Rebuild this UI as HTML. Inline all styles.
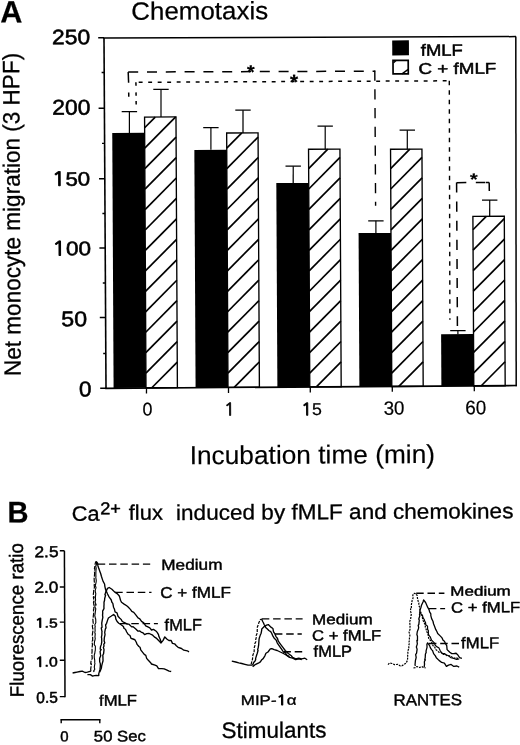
<!DOCTYPE html>
<html><head><meta charset="utf-8"><title>Chemotaxis and Ca2+ flux</title>
<style>html,body{margin:0;padding:0;background:#fff}svg{display:block}</style></head>
<body><svg width="520" height="745" viewBox="0 0 520 745">
<rect width="520" height="745" fill="#fff"/>
<g transform="rotate(-0.3 260.0 372.0)">
<g stroke="#000" stroke-linecap="butt" fill="none">
<line x1="105.75" y1="37.09" x2="105.92" y2="387.49" stroke-width="1.6"/>
<line x1="105.05" y1="37.08" x2="517.75" y2="37.95" stroke-width="1.5"/>
<line x1="517.55" y1="37.94" x2="516.12" y2="387.54" stroke-width="1.5"/>
<line x1="105.12" y1="387.49" x2="516.83" y2="386.84" stroke-width="1.7"/>
<line x1="99.95" y1="36.96" x2="105.75" y2="36.99" stroke-width="1.5"/>
<line x1="99.98" y1="107.46" x2="105.78" y2="107.49" stroke-width="1.5"/>
<line x1="100.02" y1="177.96" x2="105.82" y2="177.99" stroke-width="1.5"/>
<line x1="100.05" y1="247.16" x2="105.85" y2="247.19" stroke-width="1.5"/>
<line x1="100.08" y1="316.66" x2="105.88" y2="316.69" stroke-width="1.5"/>
<line x1="100.12" y1="387.36" x2="105.92" y2="387.39" stroke-width="1.5"/>
<line x1="103.17" y1="71.67" x2="105.77" y2="71.69" stroke-width="1.3"/>
<line x1="103.20" y1="142.58" x2="105.80" y2="142.59" stroke-width="1.3"/>
<line x1="103.23" y1="212.68" x2="105.83" y2="212.69" stroke-width="1.3"/>
<line x1="103.27" y1="282.18" x2="105.87" y2="282.19" stroke-width="1.3"/>
<line x1="103.30" y1="352.68" x2="105.90" y2="352.69" stroke-width="1.3"/>
<rect x="113.51" y="132.23" width="32.40" height="254.96" fill="#000" stroke="none"/>
<line x1="151.73" y1="387.18" x2="177.31" y2="361.60" stroke-width="1.7"/>
<line x1="145.91" y1="372.55" x2="177.31" y2="341.15" stroke-width="1.7"/>
<line x1="145.91" y1="352.10" x2="177.31" y2="320.70" stroke-width="1.7"/>
<line x1="145.91" y1="331.65" x2="177.31" y2="300.25" stroke-width="1.7"/>
<line x1="145.91" y1="311.20" x2="177.31" y2="279.80" stroke-width="1.7"/>
<line x1="145.91" y1="290.75" x2="177.31" y2="259.35" stroke-width="1.7"/>
<line x1="145.91" y1="270.30" x2="177.31" y2="238.90" stroke-width="1.7"/>
<line x1="145.91" y1="249.85" x2="177.31" y2="218.45" stroke-width="1.7"/>
<line x1="145.91" y1="229.40" x2="177.31" y2="198.00" stroke-width="1.7"/>
<line x1="145.91" y1="208.95" x2="177.31" y2="177.55" stroke-width="1.7"/>
<line x1="145.91" y1="188.50" x2="177.31" y2="157.10" stroke-width="1.7"/>
<line x1="145.91" y1="168.05" x2="177.31" y2="136.65" stroke-width="1.7"/>
<line x1="145.91" y1="147.60" x2="177.02" y2="116.49" stroke-width="1.7"/>
<line x1="145.91" y1="127.15" x2="156.57" y2="116.49" stroke-width="1.7"/>
<rect x="145.91" y="116.49" width="31.40" height="270.69" fill="none" stroke="#000" stroke-width="1.35"/>
<line x1="146.42" y1="387.42" x2="146.39" y2="392.92" stroke-width="1.3"/>
<rect x="195.51" y="149.55" width="32.40" height="237.63" fill="#000" stroke="none"/>
<line x1="234.12" y1="387.18" x2="259.31" y2="361.99" stroke-width="1.7"/>
<line x1="227.91" y1="372.94" x2="259.31" y2="341.54" stroke-width="1.7"/>
<line x1="227.91" y1="352.49" x2="259.31" y2="321.09" stroke-width="1.7"/>
<line x1="227.91" y1="332.04" x2="259.31" y2="300.64" stroke-width="1.7"/>
<line x1="227.91" y1="311.59" x2="259.31" y2="280.19" stroke-width="1.7"/>
<line x1="227.91" y1="291.14" x2="259.31" y2="259.74" stroke-width="1.7"/>
<line x1="227.91" y1="270.69" x2="259.31" y2="239.29" stroke-width="1.7"/>
<line x1="227.91" y1="250.24" x2="259.31" y2="218.84" stroke-width="1.7"/>
<line x1="227.91" y1="229.79" x2="259.31" y2="198.39" stroke-width="1.7"/>
<line x1="227.91" y1="209.34" x2="259.31" y2="177.94" stroke-width="1.7"/>
<line x1="227.91" y1="188.89" x2="259.31" y2="157.49" stroke-width="1.7"/>
<line x1="227.91" y1="168.44" x2="259.31" y2="137.04" stroke-width="1.7"/>
<line x1="227.91" y1="147.99" x2="243.08" y2="132.82" stroke-width="1.7"/>
<rect x="227.91" y="132.82" width="31.40" height="254.36" fill="none" stroke="#000" stroke-width="1.35"/>
<line x1="228.42" y1="387.30" x2="228.39" y2="392.80" stroke-width="1.3"/>
<rect x="277.31" y="183.18" width="32.40" height="204.00" fill="#000" stroke="none"/>
<line x1="316.30" y1="387.18" x2="341.11" y2="362.38" stroke-width="1.7"/>
<line x1="309.71" y1="373.33" x2="341.11" y2="341.93" stroke-width="1.7"/>
<line x1="309.71" y1="352.88" x2="341.11" y2="321.48" stroke-width="1.7"/>
<line x1="309.71" y1="332.43" x2="341.11" y2="301.03" stroke-width="1.7"/>
<line x1="309.71" y1="311.98" x2="341.11" y2="280.58" stroke-width="1.7"/>
<line x1="309.71" y1="291.53" x2="341.11" y2="260.13" stroke-width="1.7"/>
<line x1="309.71" y1="271.08" x2="341.11" y2="239.68" stroke-width="1.7"/>
<line x1="309.71" y1="250.63" x2="341.11" y2="219.23" stroke-width="1.7"/>
<line x1="309.71" y1="230.18" x2="341.11" y2="198.78" stroke-width="1.7"/>
<line x1="309.71" y1="209.73" x2="341.11" y2="178.33" stroke-width="1.7"/>
<line x1="309.71" y1="189.28" x2="341.11" y2="157.88" stroke-width="1.7"/>
<line x1="309.71" y1="168.83" x2="328.99" y2="149.55" stroke-width="1.7"/>
<rect x="309.71" y="149.55" width="31.40" height="237.63" fill="none" stroke="#000" stroke-width="1.35"/>
<line x1="310.22" y1="387.17" x2="310.19" y2="392.67" stroke-width="1.3"/>
<rect x="359.31" y="233.61" width="32.40" height="153.57" fill="#000" stroke="none"/>
<line x1="398.73" y1="387.18" x2="423.11" y2="362.81" stroke-width="1.7"/>
<line x1="391.71" y1="373.76" x2="423.11" y2="342.36" stroke-width="1.7"/>
<line x1="391.71" y1="353.31" x2="423.11" y2="321.91" stroke-width="1.7"/>
<line x1="391.71" y1="332.86" x2="423.11" y2="301.46" stroke-width="1.7"/>
<line x1="391.71" y1="312.41" x2="423.11" y2="281.01" stroke-width="1.7"/>
<line x1="391.71" y1="291.96" x2="423.11" y2="260.56" stroke-width="1.7"/>
<line x1="391.71" y1="271.51" x2="423.11" y2="240.11" stroke-width="1.7"/>
<line x1="391.71" y1="251.06" x2="423.11" y2="219.66" stroke-width="1.7"/>
<line x1="391.71" y1="230.61" x2="423.11" y2="199.21" stroke-width="1.7"/>
<line x1="391.71" y1="210.16" x2="423.11" y2="178.76" stroke-width="1.7"/>
<line x1="391.71" y1="189.71" x2="423.11" y2="158.31" stroke-width="1.7"/>
<line x1="391.71" y1="169.26" x2="410.99" y2="149.98" stroke-width="1.7"/>
<rect x="391.71" y="149.98" width="31.40" height="237.20" fill="none" stroke="#000" stroke-width="1.35"/>
<line x1="392.22" y1="387.04" x2="392.19" y2="392.54" stroke-width="1.3"/>
<rect x="441.31" y="335.24" width="32.40" height="51.95" fill="#000" stroke="none"/>
<line x1="480.98" y1="387.18" x2="505.11" y2="363.06" stroke-width="1.7"/>
<line x1="473.71" y1="374.01" x2="505.11" y2="342.61" stroke-width="1.7"/>
<line x1="473.71" y1="353.56" x2="505.11" y2="322.16" stroke-width="1.7"/>
<line x1="473.71" y1="333.11" x2="505.11" y2="301.71" stroke-width="1.7"/>
<line x1="473.71" y1="312.66" x2="505.11" y2="281.26" stroke-width="1.7"/>
<line x1="473.71" y1="292.21" x2="505.11" y2="260.81" stroke-width="1.7"/>
<line x1="473.71" y1="271.76" x2="505.11" y2="240.36" stroke-width="1.7"/>
<line x1="473.71" y1="251.31" x2="505.11" y2="219.91" stroke-width="1.7"/>
<line x1="473.71" y1="230.86" x2="487.06" y2="217.51" stroke-width="1.7"/>
<rect x="473.71" y="217.51" width="31.40" height="169.68" fill="none" stroke="#000" stroke-width="1.35"/>
<line x1="474.22" y1="386.91" x2="474.20" y2="392.41" stroke-width="1.3"/>
<line x1="130.76" y1="111.02" x2="130.65" y2="132.22" stroke-width="1.2"/>
<line x1="123.06" y1="110.98" x2="138.46" y2="111.06" stroke-width="1.25"/>
<line x1="162.48" y1="88.89" x2="162.34" y2="116.49" stroke-width="1.2"/>
<line x1="154.78" y1="88.85" x2="170.18" y2="88.93" stroke-width="1.25"/>
<line x1="212.18" y1="127.45" x2="212.06" y2="149.55" stroke-width="1.2"/>
<line x1="204.48" y1="127.41" x2="219.88" y2="127.49" stroke-width="1.25"/>
<line x1="244.37" y1="110.11" x2="244.25" y2="132.81" stroke-width="1.2"/>
<line x1="236.67" y1="110.07" x2="252.07" y2="110.15" stroke-width="1.25"/>
<line x1="294.28" y1="166.38" x2="294.19" y2="183.18" stroke-width="1.2"/>
<line x1="286.58" y1="166.34" x2="301.98" y2="166.42" stroke-width="1.25"/>
<line x1="326.49" y1="126.54" x2="326.37" y2="149.54" stroke-width="1.2"/>
<line x1="318.79" y1="126.50" x2="334.19" y2="126.59" stroke-width="1.25"/>
<line x1="376.69" y1="221.41" x2="376.63" y2="233.61" stroke-width="1.2"/>
<line x1="368.99" y1="221.37" x2="384.39" y2="221.45" stroke-width="1.25"/>
<line x1="408.56" y1="130.97" x2="408.46" y2="149.97" stroke-width="1.2"/>
<line x1="400.86" y1="130.93" x2="416.26" y2="131.01" stroke-width="1.25"/>
<line x1="458.11" y1="331.54" x2="458.10" y2="335.24" stroke-width="1.2"/>
<line x1="450.41" y1="331.50" x2="465.81" y2="331.58" stroke-width="1.25"/>
<line x1="490.60" y1="201.31" x2="490.51" y2="217.50" stroke-width="1.2"/>
<line x1="482.90" y1="201.26" x2="498.30" y2="201.35" stroke-width="1.25"/>
<line x1="129.77" y1="71.31" x2="376.77" y2="71.81" stroke-width="1.5" stroke-dasharray="10 8.8"/>
<line x1="129.77" y1="71.31" x2="130.12" y2="82.12" stroke-width="1.5"/>
<line x1="130.17" y1="91.72" x2="130.24" y2="96.02" stroke-width="1.5"/>
<line x1="376.38" y1="71.01" x2="376.47" y2="206.41" stroke-width="1.4" stroke-dasharray="10.4 8.35"/>
<line x1="137.12" y1="81.65" x2="451.12" y2="81.80" stroke-width="1.5" stroke-dasharray="3.9 5.6" stroke-dashoffset="6.4"/>
<line x1="137.42" y1="81.65" x2="137.50" y2="85.05" stroke-width="1.5"/>
<line x1="137.47" y1="91.75" x2="137.55" y2="95.16" stroke-width="1.5"/>
<line x1="137.52" y1="100.35" x2="137.60" y2="103.76" stroke-width="1.5"/>
<line x1="450.82" y1="81.80" x2="450.17" y2="320.70" stroke-width="1.4" stroke-dasharray="4.4 5.1"/>
<line x1="457.69" y1="183.73" x2="467.29" y2="183.68" stroke-width="1.5"/>
<line x1="476.79" y1="183.63" x2="486.39" y2="183.58" stroke-width="1.5"/>
<line x1="486.99" y1="183.59" x2="490.19" y2="183.60" stroke-width="1.5"/>
<line x1="490.19" y1="183.60" x2="490.24" y2="192.20" stroke-width="1.5"/>
<line x1="457.59" y1="183.53" x2="457.64" y2="327.03" stroke-width="1.5" stroke-dasharray="10.1 9.0"/>
<rect x="393.93" y="41.10" width="16.7" height="15.0" fill="#000" stroke="none"/>
<rect x="394.63" y="61.10" width="15.2" height="13.5" fill="none" stroke="#000" stroke-width="1.7"/>
<line x1="403.56" y1="74.65" x2="409.78" y2="70.18" stroke-width="1.4"/>
<line x1="395.22" y1="63.40" x2="397.63" y2="61.22" stroke-width="1.4"/>
<line x1="63.47" y1="549.77" x2="63.30" y2="696.17" stroke-width="1.5"/>
<line x1="58.87" y1="549.75" x2="63.47" y2="549.77" stroke-width="1.4"/>
<line x1="58.68" y1="585.95" x2="63.43" y2="585.97" stroke-width="1.4"/>
<line x1="58.49" y1="621.05" x2="63.39" y2="621.07" stroke-width="1.4"/>
<line x1="58.29" y1="659.15" x2="63.34" y2="659.17" stroke-width="1.4"/>
<line x1="58.10" y1="695.55" x2="63.30" y2="695.57" stroke-width="1.4"/>
<line x1="58.78" y1="718.75" x2="98.58" y2="718.96" stroke-width="1.4"/>
<line x1="59.38" y1="718.15" x2="59.36" y2="722.25" stroke-width="1.4"/>
<line x1="97.98" y1="718.36" x2="97.96" y2="722.46" stroke-width="1.4"/>
<polyline fill="none" stroke-width="1.35" stroke-linejoin="round" points="71.03,672.01 73.43,671.53 75.43,671.14 78.43,670.55 80.64,670.26 83.43,671.58 85.83,671.19 89.34,670.31"/>
<polyline fill="none" stroke-width="1.2" stroke-linejoin="round" points="89.34,670.31 89.12,668.36 89.41,666.46 89.87,663.00 89.19,662.94 89.64,659.31 90.72,657.87 90.64,655.82 90.32,653.82 90.59,650.89 90.65,650.74 90.59,648.40 90.87,644.62 91.06,643.98 90.55,640.50 91.36,639.64 91.24,638.68 91.31,636.78 90.98,634.45 91.12,632.78 91.78,628.59 91.36,627.62 90.96,624.87 92.11,623.43 91.74,621.06 91.66,619.26 91.52,617.77 91.90,616.58 92.09,614.63 92.39,612.78 92.24,608.61 92.54,608.68 92.68,605.64 92.51,602.69 92.30,601.43 92.81,599.61 92.18,596.27 92.99,596.68 92.08,594.17 92.58,590.48 92.50,590.08 93.35,586.19 93.09,584.18 93.30,582.92 93.58,582.60 93.17,580.64 93.01,576.24 93.33,575.33 93.63,571.93 93.26,570.72 93.97,567.89 93.38,567.55 93.89,565.61 94.30,562.24 95.21,560.44" stroke-dasharray="5 1.2"/>
<polyline fill="none" stroke-width="1.35" stroke-linejoin="round" points="95.21,560.44 96.57,562.33 96.89,564.85 97.72,567.51 98.66,570.06 99.68,572.96 100.33,575.37 101.24,578.28 102.01,580.58 103.46,583.20 103.78,585.78 104.52,589.01 105.45,591.09 106.40,593.18 108.02,596.31 109.98,598.97 110.70,601.52 111.62,602.59 112.29,606.40 113.26,608.53 113.79,611.17 115.75,612.07 116.72,615.55 118.31,617.21 119.81,618.65 121.00,620.78 123.69,622.19 125.95,623.47 127.68,623.51 130.37,626.22 131.80,626.09 134.46,628.25 136.67,630.51 138.45,630.37 139.72,631.46 141.76,632.32 143.23,633.99 145.36,632.97 147.83,632.92 151.32,634.63 152.89,636.34 154.81,637.55 156.24,638.94 158.19,640.97 159.88,642.78"/>
<polyline fill="none" stroke-width="1.2" stroke-linejoin="round" points="249.57,664.25 250.44,660.99 250.68,660.80 251.10,658.16 251.41,654.87 252.59,652.35 252.74,650.47 252.65,648.14 253.63,645.12 253.45,643.56 254.42,641.67 254.30,639.67 255.15,636.52 254.86,635.47 255.96,632.66 255.85,630.48 256.04,626.93 256.98,624.55 257.49,622.79 259.00,619.70 260.21,618.90" stroke-dasharray="3 1.2"/>
<polyline fill="none" stroke-width="1.35" stroke-linejoin="round" points="260.21,618.90 261.54,621.74 262.09,622.81 262.82,624.54 264.36,627.43 266.30,629.36 267.45,630.54 269.34,631.65 270.43,633.56 271.14,635.37 272.81,638.27 274.68,639.99 275.78,642.89 277.12,644.98 278.86,647.50 280.29,649.57 281.93,652.12 284.03,652.79 285.02,655.23 288.01,656.75"/>
<polyline fill="none" stroke-width="1.1" stroke-linejoin="round" points="92.63,671.13 92.04,670.28 93.24,668.40 92.72,666.30 93.43,662.41 93.25,662.01 93.21,659.18 92.78,656.72 92.77,654.01 93.29,652.58 93.65,649.95 93.82,649.64 93.90,648.17 93.94,645.33 92.84,643.77 93.11,640.61 93.60,639.13 93.85,637.20 93.56,636.27 93.87,632.72 93.43,632.07 93.77,629.87 93.65,626.35 93.92,625.96 93.49,623.89 94.51,621.93 94.43,617.86 94.21,618.08 93.50,614.54 93.82,613.20 94.07,611.06 94.57,607.84 93.67,606.16 93.80,604.01 94.94,604.06 93.83,601.14 94.41,599.14 94.21,596.65 94.29,595.52 94.63,592.78 94.16,590.69 94.10,589.28 94.91,586.83 94.13,584.30 94.54,583.41 95.11,580.83 95.17,579.46 94.73,576.81 94.85,575.67 94.79,573.64 94.88,570.48 94.97,569.14 95.17,567.65 94.73,564.94 95.35,564.13 95.61,561.14"/>
<polyline fill="none" stroke-width="1.35" stroke-linejoin="round" points="85.82,673.79 88.72,673.78 90.99,675.18 92.81,674.73 94.70,674.65 97.21,674.75 97.18,672.97 98.14,669.56 98.47,668.32 98.77,665.51 98.82,663.00 98.13,660.81 98.13,657.42 99.26,654.92 99.02,653.86 98.62,650.63 99.77,648.66 98.77,648.19 99.02,646.01 99.86,643.80 100.35,640.95 100.28,637.35 100.01,636.37 100.48,634.22 100.55,631.00 100.70,630.97 99.94,627.21 100.71,626.35 100.43,622.49 100.55,621.45 101.00,618.97 101.56,616.51 101.28,614.33 101.48,612.20 101.36,610.22 102.74,607.82 102.67,604.97 102.82,604.33 102.80,601.48 103.39,599.45 103.51,597.70 104.43,594.34 103.75,593.81 104.65,591.09 106.37,587.60 108.07,586.71 110.76,588.42 113.35,591.14 115.94,592.85 117.77,594.65 118.52,596.36 119.33,599.54 120.30,601.57 122.89,603.39 125.48,605.10 126.91,606.30 129.16,608.72 130.56,610.75 132.50,611.64 134.53,614.15 136.76,617.34 138.51,618.17 140.23,620.76 142.49,622.29 144.41,625.22 146.57,626.31 148.47,627.26 150.15,629.43 152.14,628.80 154.84,630.65 155.96,632.05 157.13,634.06 157.54,636.00 158.80,638.67 159.88,642.18 161.70,639.89 163.41,636.40 165.70,638.71 167.51,640.03 169.80,639.93 171.02,642.91 173.18,643.35 174.89,645.37 176.66,646.87 180.05,648.09 182.34,649.80 185.84,650.42 187.54,651.52"/>
<polyline fill="none" stroke-width="1.35" stroke-linejoin="round" points="98.13,671.26 98.75,669.95 99.87,667.06 100.09,665.32 100.78,662.57 101.47,660.13 101.52,659.40 101.41,655.31 101.32,654.39 102.12,652.83 102.58,648.78 101.94,646.64 102.57,645.08 102.32,643.58 103.35,642.06 102.73,639.93 102.97,636.75 103.67,633.84 103.53,632.88 103.35,631.67 103.96,628.35 104.69,627.11 104.30,624.14 105.29,622.49 106.12,619.81 107.11,617.20 109.72,615.52 112.33,613.73 114.12,615.54 114.58,618.36 115.80,620.75 117.49,622.56 120.18,624.27 122.06,625.75 122.76,627.78 124.11,628.55 125.34,631.30 126.69,633.49 128.62,634.82 129.60,637.58 131.60,638.33 133.50,639.09 134.89,641.62 135.68,643.75 137.47,645.88 138.56,646.67 139.43,649.43 140.84,651.28 142.77,653.84 144.32,654.80 145.15,657.76 146.59,659.41 148.88,661.87 149.97,663.43 153.47,664.65 155.26,665.40 156.95,668.16 160.35,668.18 162.64,668.36 164.94,669.31 167.57,670.63 169.63,671.03"/>
<polyline fill="none" stroke-width="1.35" stroke-linejoin="round" points="230.29,661.05 234.18,661.87 237.28,662.69 240.27,663.40 243.37,664.22 246.47,665.03 249.57,665.05 251.07,665.06"/>
<polyline fill="none" stroke-width="1.35" stroke-linejoin="round" points="251.07,665.06 252.32,662.29 253.39,661.17 254.16,659.59 254.13,658.34 255.35,654.42 255.73,653.48 256.62,650.41 256.17,649.78 256.85,647.21 257.24,644.82 257.38,642.79 257.66,639.38 257.85,638.22 258.92,635.10 259.76,633.15 260.26,630.61 260.45,628.91 262.87,626.62 265.17,625.13 266.98,624.64 268.17,625.74 269.96,627.46 271.59,628.57 272.24,632.07 273.44,633.72 274.61,636.68 276.10,638.61 276.89,641.29 279.17,644.40 281.46,647.52 283.74,650.63 285.07,651.88 286.83,653.64 289.81,655.96 291.11,657.57 294.20,659.08 297.30,658.40 300.30,659.11 303.40,658.43 305.69,659.94"/>
<polyline fill="none" stroke-width="1.35" stroke-linejoin="round" points="251.06,666.56 254.17,664.27 257.28,662.79 258.84,661.95 260.29,659.71 261.66,658.66 263.41,655.82 264.47,653.33 266.53,652.04 268.85,648.95 270.35,648.66 272.75,649.77 275.74,650.59 278.83,652.10 281.93,653.62 285.02,655.23 288.01,657.55 291.10,658.37 294.19,659.88 297.30,659.10 300.29,659.91"/>
<polyline fill="none" stroke-width="1.2" stroke-linejoin="round" points="386.47,665.27 387.95,663.72 390.47,664.19 392.93,665.29 394.67,665.21 396.16,665.06 398.46,666.53 400.35,666.52 402.47,665.25 404.58,663.86 405.89,661.17 406.21,658.14 406.15,656.14 406.51,655.01 406.29,652.06 407.24,649.38 407.46,649.51 407.27,646.37 408.00,644.05 407.63,642.55 407.88,641.56 408.11,637.78 408.49,636.24 408.30,634.85 407.67,632.94 408.68,630.20 408.65,628.10 408.77,626.18 408.51,624.24 408.45,622.14 409.38,619.98 409.41,619.30 409.99,615.14 409.99,614.39 409.17,611.68 409.55,608.93 410.08,609.13 410.18,605.99 410.23,604.93 411.02,601.00 411.51,600.20 411.89,598.48 411.63,595.90 412.94,594.10 415.04,594.51 415.99,596.51 416.31,599.32 417.13,602.68 417.63,603.63 417.58,606.03 418.60,608.69 418.95,611.44 419.43,612.95 420.92,616.85 421.03,618.30 421.79,621.31 422.89,623.56 423.80,625.89 424.09,628.42 424.85,630.27 425.28,632.41 426.56,634.49 426.91,636.98 427.48,640.07 428.89,641.09 430.17,642.75 430.87,645.10 431.83,646.98 433.25,647.99 434.24,650.52 435.24,651.11 437.53,653.23 439.95,653.32 441.62,655.25 443.57,655.17 445.61,656.68 447.47,656.73 449.95,657.64 452.30,659.41 454.39,658.71 457.69,660.04" stroke-dasharray="2.0 1.0"/>
<polyline fill="none" stroke-width="1.2" stroke-linejoin="round" points="411.95,668.60 413.53,668.58 415.42,667.38 417.93,668.39 420.29,667.48 421.91,668.38 424.05,668.66" stroke-dasharray="2.0 1.0"/>
<polyline fill="none" stroke-width="1.3" stroke-linejoin="round" points="413.96,666.61 413.48,665.80 413.88,661.51 414.35,659.68 414.68,658.13 414.18,655.35 415.10,653.91 415.32,652.39 415.65,649.94 414.90,647.83 415.37,646.42 415.92,644.74 415.47,641.32 416.05,641.58 416.09,637.05 415.51,635.25 415.85,633.09 415.84,632.68 417.09,629.49 417.34,628.19 416.87,626.22 417.53,625.15 417.99,620.70 417.43,620.03 418.54,616.52 418.23,615.43 418.47,613.99 418.75,610.45 419.55,608.86 420.28,606.04 421.90,602.50 422.41,600.65 424.39,603.36 425.69,606.33 426.37,608.07 427.79,610.57 428.34,612.78 429.55,614.67 429.54,616.55 430.31,619.50 431.66,622.15 432.28,624.91 433.02,626.75 434.35,630.32 435.62,632.65 436.33,634.43 439.01,637.04 440.63,638.81 441.69,641.16 443.02,642.26 444.37,645.17 445.29,646.63 445.64,650.58 448.33,653.29 450.28,654.62 452.32,654.61 454.61,654.28 456.42,656.03 458.06,658.63 460.40,659.45"/>
<polyline fill="none" stroke-width="1.2" stroke-linejoin="round" points="418.94,612.74 420.01,615.53 421.21,616.22 421.61,618.15 423.02,620.56 423.18,621.42 424.29,623.56 424.39,625.54 426.19,627.01 426.25,630.27 427.00,631.50 427.01,635.13 428.21,636.98 428.87,637.86 430.19,641.09 432.88,643.81 433.77,646.19 435.56,647.82 437.37,648.61 438.94,651.94 440.57,654.46 442.92,654.56 444.60,655.78 447.01,656.68 449.55,658.78 452.30,659.41 455.13,660.48 457.69,660.04"/>
<polyline fill="none" stroke-width="1.3" stroke-linejoin="round" points="422.65,667.96 423.00,665.03 422.83,662.63 423.97,660.61 423.21,660.71 423.74,658.41 423.90,655.19 424.73,653.17 424.55,652.00 425.25,649.49 425.62,648.06 425.47,645.07 426.18,643.77 428.17,646.48 428.95,648.76 430.14,650.49 431.07,651.49 432.12,654.51 433.90,656.81 434.80,658.62 437.49,661.33 440.18,663.35 442.87,664.06 444.86,667.37 446.96,666.08 449.57,665.40 452.26,667.41 455.37,667.01 457.65,668.14"/>
<line x1="96.70" y1="563.25" x2="149.20" y2="563.52" stroke-width="1.4" stroke-dasharray="7.5 3.8"/>
<line x1="114.05" y1="591.64" x2="150.35" y2="591.83" stroke-width="1.4" stroke-dasharray="7.5 3.8"/>
<line x1="118.68" y1="622.86" x2="156.58" y2="623.06" stroke-width="1.4" stroke-dasharray="7.5 3.8"/>
<line x1="260.51" y1="618.91" x2="301.31" y2="619.12" stroke-width="1.4" stroke-dasharray="7.5 3.8"/>
<line x1="273.53" y1="634.07" x2="300.43" y2="634.22" stroke-width="1.4" stroke-dasharray="7.5 3.8"/>
<line x1="281.94" y1="651.82" x2="303.43" y2="651.93" stroke-width="1.4" stroke-dasharray="7.5 3.8"/>
<line x1="415.04" y1="594.11" x2="443.24" y2="594.26" stroke-width="1.4" stroke-dasharray="7.5 3.8"/>
<line x1="427.66" y1="609.48" x2="443.86" y2="609.57" stroke-width="1.4" stroke-dasharray="7.5 3.8"/>
<line x1="427.48" y1="644.38" x2="457.78" y2="644.54" stroke-width="1.4" stroke-dasharray="7.5 3.8"/>
</g>
<g fill="#000" stroke="#000" stroke-linejoin="round" font-family='"Liberation Sans", Arial, Helvetica, sans-serif'>
<text x="2.02" y="21.23" font-size="30.94" font-weight="bold" stroke-width="0.20" textLength="22.11" lengthAdjust="spacingAndGlyphs">A</text>
<text x="133.18" y="19.12" font-size="25.02" stroke-width="0.25" textLength="136.77" lengthAdjust="spacingAndGlyphs">Chemotaxis</text>
<text x="53.82" y="43.20" font-size="20.88" stroke-width="0.55" textLength="38.14" lengthAdjust="spacingAndGlyphs">250</text>
<text x="53.57" y="113.76" font-size="21.59" stroke-width="0.55" textLength="38.14" lengthAdjust="spacingAndGlyphs">200</text>
<text x="52.91" y="184.63" font-size="19.35" stroke-width="0.55" textLength="38.30" lengthAdjust="spacingAndGlyphs"><tspan font-family="NanumGothic, 'Liberation Sans', sans-serif" stroke-width="0.9">1</tspan>50</text>
<text x="52.82" y="254.37" font-size="19.69" stroke-width="0.55" textLength="38.83" lengthAdjust="spacingAndGlyphs"><tspan font-family="NanumGothic, 'Liberation Sans', sans-serif" stroke-width="0.9">1</tspan>00</text>
<text x="61.47" y="325.19" font-size="21.23" stroke-width="0.55" textLength="25.81" lengthAdjust="spacingAndGlyphs">50</text>
<text x="78.90" y="395.63" font-size="21.57" stroke-width="0.55" textLength="12.52" lengthAdjust="spacingAndGlyphs">0</text>
<g transform="rotate(-90)"><text x="-374.76" y="20.77" font-size="23.62" stroke-width="0.30" textLength="323.18" lengthAdjust="spacingAndGlyphs">Net monocyte migration (3 HPF)</text></g>
<text x="142.28" y="414.97" font-size="18.44" stroke-width="0.20" textLength="10.02" lengthAdjust="spacingAndGlyphs">0</text>
<text x="223.83" y="415.19" font-size="17.32" font-family="NanumGothic, 'Liberation Sans', sans-serif" stroke-width="0.70" textLength="11.16" lengthAdjust="spacingAndGlyphs">1</text>
<text x="300.99" y="415.38" font-size="16.91" stroke-width="0.20" textLength="20.70" lengthAdjust="spacingAndGlyphs"><tspan font-family="NanumGothic, 'Liberation Sans', sans-serif" stroke-width="0.9">1</tspan>5</text>
<text x="383.46" y="415.30" font-size="19.13" stroke-width="0.20" textLength="20.80" lengthAdjust="spacingAndGlyphs">30</text>
<text x="464.96" y="415.44" font-size="19.48" stroke-width="0.20" textLength="21.11" lengthAdjust="spacingAndGlyphs">60</text>
<text x="189.19" y="463.90" font-size="26.03" stroke-width="0.15" textLength="245.41" lengthAdjust="spacingAndGlyphs">Incubation time (min)</text>
<text x="422.44" y="56.69" font-size="16.36" stroke-width="0.50" textLength="42.11" lengthAdjust="spacingAndGlyphs">fMLF</text>
<text x="419.96" y="74.92" font-size="15.70" stroke-width="0.50" textLength="78.00" lengthAdjust="spacingAndGlyphs">C + fMLF</text>
<text x="248.63" y="78.51" font-size="19.22" font-weight="bold" stroke-width="0.20" textLength="7.73" lengthAdjust="spacingAndGlyphs">*</text>
<text x="291.53" y="89.17" font-size="20.50" font-weight="bold" stroke-width="0.20" textLength="8.22" lengthAdjust="spacingAndGlyphs">*</text>
<text x="471.02" y="186.20" font-size="16.64" font-weight="bold" stroke-width="0.20" textLength="7.73" lengthAdjust="spacingAndGlyphs">*</text>
<text x="6.66" y="521.29" font-size="29.87" font-weight="bold" stroke-width="0.20" textLength="21.10" lengthAdjust="spacingAndGlyphs">B</text>
<text x="70.88" y="519.77" font-size="20.87" stroke-width="0.30" textLength="27.89" lengthAdjust="spacingAndGlyphs">Ca</text>
<text x="99.45" y="513.48" font-size="17.10" stroke-width="0.42" textLength="20.79" lengthAdjust="spacingAndGlyphs">2+</text>
<text x="127.95" y="519.17" font-size="21.00" stroke-width="0.30" textLength="34.25" lengthAdjust="spacingAndGlyphs">flux</text>
<text x="175.29" y="519.54" font-size="21.35" stroke-width="0.30" textLength="337.37" lengthAdjust="spacingAndGlyphs">induced by fMLF and chemokines</text>
<text x="33.56" y="556.03" font-size="15.66" stroke-width="0.50" textLength="24.02" lengthAdjust="spacingAndGlyphs">2.5</text>
<text x="33.30" y="591.53" font-size="15.66" stroke-width="0.50" textLength="23.99" lengthAdjust="spacingAndGlyphs">2.0</text>
<text x="33.74" y="626.39" font-size="12.79" stroke-width="0.50" textLength="22.69" lengthAdjust="spacingAndGlyphs"><tspan font-family="NanumGothic, 'Liberation Sans', sans-serif" stroke-width="0.9">1</tspan>.5</text>
<text x="33.46" y="665.47" font-size="13.47" stroke-width="0.50" textLength="22.70" lengthAdjust="spacingAndGlyphs"><tspan font-family="NanumGothic, 'Liberation Sans', sans-serif" stroke-width="0.9">1</tspan>.0</text>
<text x="34.54" y="701.73" font-size="15.66" stroke-width="0.50" textLength="21.62" lengthAdjust="spacingAndGlyphs">0.5</text>
<g transform="rotate(-90)"><text x="-695.92" y="22.13" font-size="19.44" stroke-width="0.42" textLength="153.97" lengthAdjust="spacingAndGlyphs">Fluorescence ratio</text></g>
<text x="160.21" y="569.48" font-size="15.01" stroke-width="0.42" textLength="61.24" lengthAdjust="spacingAndGlyphs">Medium</text>
<text x="159.00" y="597.47" font-size="15.67" stroke-width="0.42" textLength="70.86" lengthAdjust="spacingAndGlyphs">C + fMLF</text>
<text x="163.26" y="629.96" font-size="16.35" stroke-width="0.42" textLength="37.29" lengthAdjust="spacingAndGlyphs">fMLF</text>
<text x="310.67" y="624.66" font-size="14.35" stroke-width="0.42" textLength="60.72" lengthAdjust="spacingAndGlyphs">Medium</text>
<text x="310.67" y="641.01" font-size="15.02" stroke-width="0.42" textLength="69.08" lengthAdjust="spacingAndGlyphs">C + fMLF</text>
<text x="312.10" y="657.14" font-size="16.01" stroke-width="0.42" textLength="38.44" lengthAdjust="spacingAndGlyphs">fMLP</text>
<text x="449.17" y="596.81" font-size="13.35" stroke-width="0.42" textLength="60.46" lengthAdjust="spacingAndGlyphs">Medium</text>
<text x="449.71" y="613.64" font-size="15.01" stroke-width="0.42" textLength="69.34" lengthAdjust="spacingAndGlyphs">C + fMLF</text>
<text x="459.65" y="649.43" font-size="15.68" stroke-width="0.42" textLength="38.05" lengthAdjust="spacingAndGlyphs">fMLF</text>
<text x="97.25" y="704.84" font-size="15.34" stroke-width="0.42" textLength="38.05" lengthAdjust="spacingAndGlyphs">fMLF</text>
<text x="239.06" y="704.99" font-size="13.74" stroke-width="0.35" textLength="55.86" lengthAdjust="spacingAndGlyphs">MIP-<tspan font-family="NanumGothic, 'Liberation Sans', sans-serif" stroke-width="0.9">1</tspan>α</text>
<text x="391.79" y="706.17" font-size="16.03" stroke-width="0.42" textLength="68.53" lengthAdjust="spacingAndGlyphs">RANTES</text>
<text x="219.64" y="737.90" font-size="22.34" stroke-width="0.30" textLength="104.91" lengthAdjust="spacingAndGlyphs">Stimulants</text>
<text x="58.42" y="740.56" font-size="14.63" stroke-width="0.42" textLength="8.35" lengthAdjust="spacingAndGlyphs">0</text>
<text x="91.93" y="740.64" font-size="15.31" stroke-width="0.42" textLength="52.03" lengthAdjust="spacingAndGlyphs">50 Sec</text>
</g>
</g>
</svg></body></html>
